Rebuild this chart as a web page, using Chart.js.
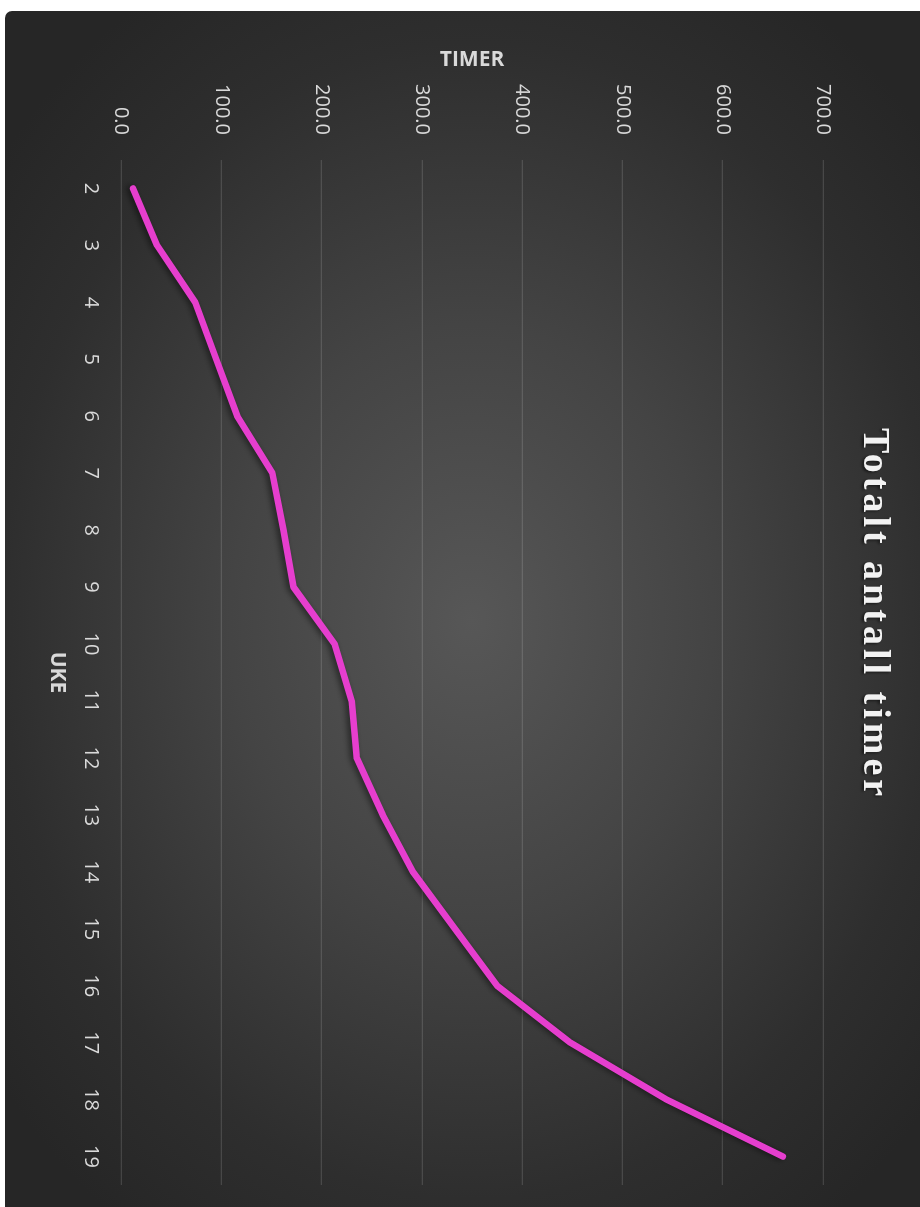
<!DOCTYPE html>
<html>
<head>
<meta charset="utf-8">
<script src="https://cdn.jsdelivr.net/npm/chart.js@4.4.1/dist/chart.umd.min.js"></script>
<style>
  html, body { margin: 0; padding: 0; background: #fff; overflow: hidden; }
  body { width: 920px; height: 1207px; position: relative; }
  /* the chart is laid out landscape and turned a quarter clockwise */
  #wrap {
    position: absolute; left: 0; top: 0;
    width: 1207px; height: 920px;
    transform-origin: 0 0;
    transform: translateX(920px) rotate(90deg);
  }
  #bg {
    position: absolute; left: 11px; top: 0; width: 1196px; height: 915px;
    border-bottom-left-radius: 7px;
    background: radial-gradient(ellipse 62% 66% at 51% 49%, #575757 0%, #444 40%, #2e2e2e 78%, #262626 100%);
  }
  #chart { position: absolute; left: 0; top: 0; }
</style>
</head>
<body>
<div id="wrap">
  <div id="bg"></div>
  <canvas id="chart" width="1207" height="920"></canvas>
</div>
<script>
var weeks = ["2", "3", "4", "5", "6", "7", "8", "9", "10", "11", "12", "13", "14", "15", "16", "17", "18", "19"];
var hours = [12, 36, 74, 95, 116, 151, 162, 172, 213, 230, 235, 261, 291, 333, 375, 448, 544, 660];
var titleText = "Totalt antall timer";
var yTitle = "TIMER";
var xTitle = "UKE";

var tickFont = { family: "'Open Sans', sans-serif", size: 20 };
var axisTitleFont = { family: "'Open Sans', sans-serif", size: 21, weight: "bold" };

// title with letter spacing + shadow, drawn straight on the canvas
var spacedTitle = {
  id: "spacedTitle",
  afterDraw: function(chart) {
    var ctx = chart.ctx;
    ctx.save();
    ctx.font = "bold 38px 'Liberation Serif', serif";
    ctx.letterSpacing = "4px";
    ctx.textAlign = "center";
    ctx.textBaseline = "alphabetic";
    ctx.fillStyle = "#f2f2f2";
    ctx.shadowColor = "rgba(0,0,0,0.6)";
    ctx.shadowBlur = 3;
    ctx.shadowOffsetX = 1;
    ctx.shadowOffsetY = 2;
    ctx.fillText(titleText, 614, 56);
    ctx.restore();
  }
};

// soft shadow under the line
var lineShadow = {
  id: "lineShadow",
  beforeDatasetsDraw: function(chart) {
    var ctx = chart.ctx;
    ctx.save();
    ctx.shadowColor = "rgba(0,0,0,0.55)";
    ctx.shadowBlur = 6;
    ctx.shadowOffsetX = 0;
    ctx.shadowOffsetY = 3;
  },
  afterDatasetsDraw: function(chart) {
    chart.ctx.restore();
  }
};

var ctx = document.getElementById("chart").getContext("2d");
new Chart(ctx, {
  type: "line",
  data: {
    labels: weeks,
    datasets: [{
      label: "Timer",
      data: hours,
      borderColor: "rgb(230,62,206)",
      borderWidth: 6.5,
      borderCapStyle: "round",
      borderJoinStyle: "round",
      pointRadius: 0,
      tension: 0,
      fill: false
    }]
  },
  options: {
    responsive: false,
    animation: false,
    layout: { padding: { left: 0, right: 22, top: 97, bottom: 0 } },
    plugins: {
      legend: { display: false },
      tooltip: { enabled: false }
    },
    scales: {
      x: {
        offset: true,
        grid: { display: false, drawTicks: false },
        border: { display: false },
        ticks: { color: "#d9d9d9", font: tickFont, padding: 18, maxRotation: 0, autoSkip: false },
        title: { display: true, text: xTitle, color: "#d9d9d9", font: axisTitleFont, padding: { top: 0, bottom: 44 } },
        afterFit: function(scale) { scale.height = 121; }
      },
      y: {
        min: 0,
        max: 700,
        grid: { color: "rgba(255,255,255,0.13)", lineWidth: 1.3, drawTicks: false },
        border: { display: false },
        ticks: {
          stepSize: 100,
          color: "#d9d9d9",
          font: tickFont,
          padding: 25,
          callback: function(v) { return v.toFixed(1); }
        },
        title: { display: true, text: yTitle, color: "#d9d9d9", font: axisTitleFont, padding: { top: 47, bottom: 0 } },
        afterFit: function(scale) { scale.width = 160; }
      }
    }
  },
  plugins: [lineShadow, spacedTitle]
});
</script>
</body>
</html>
